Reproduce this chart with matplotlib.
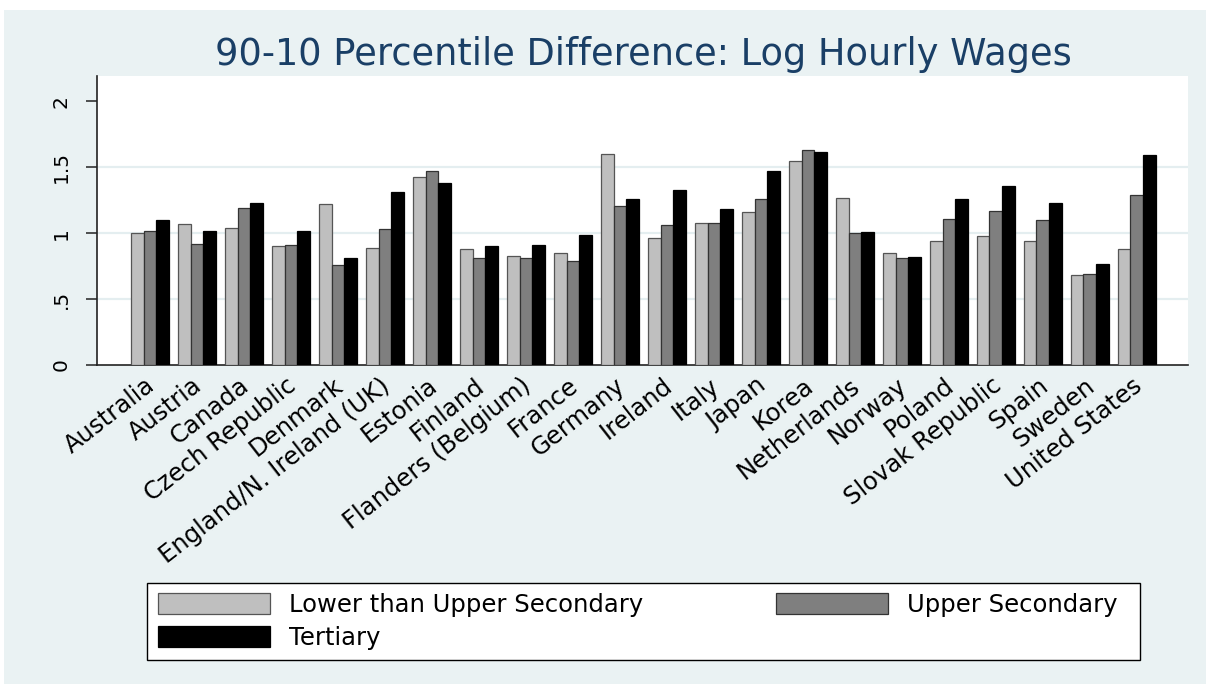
import matplotlib
matplotlib.use("Agg")
import matplotlib.pyplot as plt
from matplotlib.patches import Patch, Rectangle
import matplotlib.transforms as mtransforms
import numpy as np

countries = ["Australia", "Austria", "Canada", "Czech Republic", "Denmark",
             "England/N. Ireland (UK)", "Estonia", "Finland", "Flanders (Belgium)",
             "France", "Germany", "Ireland", "Italy", "Japan", "Korea",
             "Netherlands", "Norway", "Poland", "Slovak Republic", "Spain",
             "Sweden", "United States"]
lower_secondary = [1.00, 1.07, 1.04, 0.90, 1.22, 0.89, 1.43, 0.88, 0.83, 0.85, 1.60,
                   0.96, 1.08, 1.16, 1.55, 1.27, 0.85, 0.94, 0.98, 0.94, 0.68, 0.88]
upper_secondary = [1.02, 0.92, 1.19, 0.91, 0.76, 1.03, 1.47, 0.81, 0.81, 0.79, 1.21,
                   1.06, 1.08, 1.26, 1.63, 1.00, 0.81, 1.11, 1.17, 1.10, 0.69, 1.29]
tertiary = [1.10, 1.02, 1.23, 1.02, 0.81, 1.31, 1.38, 0.90, 0.91, 0.99, 1.26,
            1.33, 1.18, 1.47, 1.62, 1.01, 0.82, 1.26, 1.36, 1.23, 0.77, 1.59]
series_names = ["Lower than Upper Secondary", "Upper Secondary", "Tertiary"]
series_colors = ["#bfbfbf", "#7f7f7f", "#000000"]
yticks = [0, 0.5, 1, 1.5, 2]
ytick_labels = ["0", ".5", "1", "1.5", "2"]
title = "90-10 Percentile Difference: Log Hourly Wages"

plt.rcParams['font.family'] = ['DejaVu Sans']

W, H = 1206, 684
fig = plt.figure(figsize=(W / 100, H / 100), dpi=100, facecolor="white")
bg = "#eaf2f3"
fig.patches.append(Rectangle((4 / W, 0), 1 - 4 / W, 1 - 10 / H, transform=fig.transFigure,
                             facecolor=bg, edgecolor="none", zorder=-10))

ax = fig.add_axes([97 / W, 1 - 365 / H, (1188 - 97) / W, (365 - 76) / H])
ax.set_facecolor("white")

x = np.arange(len(countries))
bw = 0.27
edge_colors = ["#555555", "#333333", "#000000"]
for i, (vals, col, ec) in enumerate(zip([lower_secondary, upper_secondary, tertiary],
                                        series_colors, edge_colors)):
    ax.bar(x + (i - 1) * bw, vals, width=bw, color=col, edgecolor=ec, linewidth=0.9, zorder=3)

for g in [0.5, 1.0, 1.5]:
    ax.axhline(g, color="#e4eef0", linewidth=1.6, zorder=1)

ax.set_xlim(-1.13, 22.09)
ax.set_ylim(0, 2.193)
ax.set_yticks(yticks)
ax.set_yticklabels(ytick_labels, rotation=90, va="center", fontsize=14.5)
ax.tick_params(axis="y", direction="out", length=8, width=1.1, pad=11, color="#222222")
ax.set_xticks(x)
ax.set_xticklabels(countries, rotation=38, ha="right", rotation_mode="anchor", fontsize=17.5)
ax.tick_params(axis="x", length=0, pad=6)
offset = mtransforms.ScaledTranslation(-5 / 100, 0, fig.dpi_scale_trans)
for lab in ax.get_xticklabels():
    lab.set_transform(lab.get_transform() + offset)
for s in ["top", "right"]:
    ax.spines[s].set_visible(False)
for s in ["left", "bottom"]:
    ax.spines[s].set_color("#222222")
    ax.spines[s].set_linewidth(1.2)

fig.text(643 / W, 1 - 65 / H, title, ha="center", va="baseline", fontsize=26.5, color="#1a3f66")

# legend frame
fig.patches.append(Rectangle((147 / W, 1 - 660 / H), (1140 - 147) / W, (660 - 583) / H,
                             transform=fig.transFigure, facecolor="white", edgecolor="black",
                             linewidth=1.0, zorder=1))
handles = [Patch(facecolor=c, edgecolor=e, linewidth=0.9) for c, e in zip(series_colors, edge_colors)]
order = [0, 2, 1]
leg = fig.legend([handles[k] for k in order], [series_names[k] for k in order],
                 loc="center", bbox_to_anchor=(158 / W, 1 - 660 / H, (1118 - 158) / W, (660 - 583) / H),
                 mode="expand", ncol=2, fontsize=17.5, handlelength=4.6, handleheight=0.95,
                 handletextpad=0.8, labelspacing=0.38, borderpad=0.0, borderaxespad=0,
                 frameon=False)
leg.set_zorder(2)

fig.savefig("out.png", dpi=100, facecolor=fig.get_facecolor())
